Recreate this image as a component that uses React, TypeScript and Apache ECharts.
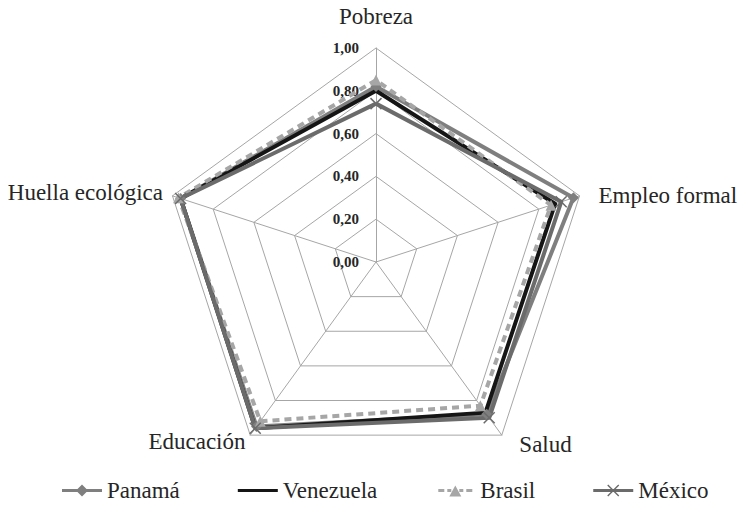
import React, { useEffect, useRef } from "react";
import * as echarts from "echarts";

// Indicators in ECharts radar order (counter-clockwise from top)
const indicatorNames = ["Pobreza", "Huella ecológica", "Educación", "Salud", "Empleo formal"];
const panama = [0.82, 0.96, 0.95, 0.88, 0.97];
const venezuela = [0.8, 0.96, 0.96, 0.87, 0.88];
const brasil = [0.85, 0.97, 0.92, 0.83, 0.86];
const mexico = [0.74, 0.96, 0.96, 0.9, 0.91];
const countries = ["Panamá", "Venezuela", "Brasil", "México"];
const axisMax = 1;

const FONT = "'Liberation Serif', 'Times New Roman', serif";

// legend icons (40 x 12 box, corner specks fix the bounding box)
const corners = "M0,0h0.01v0.01h-0.01Z M40,12h-0.01v-0.01h0.01Z ";
const iconPanama = "path://" + corners + "M0,4.5h40v3h-40Z M20,0L26,6L20,12L14,6Z";
const iconVenezuela = "path://" + corners + "M0,4.5h40v3h-40Z";
const iconBrasil =
  "path://" + corners + "M3,4.5h6v3h-6Z M12,4.5h4v3h-4Z M24,4.5h4v3h-4Z M31,4.5h6v3h-6Z M20,1L26,12L14,12Z";
const iconMexico =
  "path://" + corners + "M0,4.5h40v3h-40Z M14,1L15,0L26,11L25,12Z M25,0L26,1L15,12L14,11Z";

export default function App() {
  const ref = useRef<HTMLDivElement>(null);
  useEffect(() => {
    if (!ref.current) return;
    const chart = echarts.init(ref.current, undefined, { renderer: "svg" });
    const nameGaps = [20, 10, 8, 18, 20];
    // small per-label nudges (left padding / vertical shift in px)
    const namePadLeft = [0, 0, 0, 7, 0];
    const nameShift = [0, 0, 0, -5, 6];
    const colors = ["#7f7f7f", "#151515", "#a6a6a6", "#6b6b6b"];
    const icons = [iconPanama, iconVenezuela, iconBrasil, iconMexico];
    chart.setOption({
      animation: false,
      backgroundColor: "#ffffff",
      legend: {
        bottom: 9,
        left: 57,
        itemWidth: 40,
        itemHeight: 12,
        itemGap: 58,
        textStyle: { fontFamily: FONT, fontSize: 23, color: "#262626" },
        data: countries.map((c, i) => ({
          name: c,
          icon: icons[i],
          itemStyle: { color: colors[i], borderWidth: 0 },
        })),
      },
      radar: {
        center: [376, 262],
        radius: 214,
        startAngle: 90,
        splitNumber: 5,
        shape: "polygon",
        axisName: { fontFamily: FONT, fontSize: 23, color: "#262626" },
        splitLine: { lineStyle: { color: "#a6a6a6", width: 1 } },
        splitArea: { show: false },
        axisLine: { lineStyle: { color: "#a6a6a6", width: 1 } },
        axisTick: { show: false },
        axisLabel: {
          show: false,
          fontFamily: FONT,
          fontSize: 15,
          fontWeight: "bold",
          color: "#262626",
          margin: 17,
          padding: [8, 0, 0, 0],
          formatter: (v: number) => v.toFixed(2).replace(".", ","),
        },
        indicator: indicatorNames.map((n, i) => {
          const s = nameShift[i];
          const name = s > 0 ? "\n" + n : s < 0 ? n + "\n" : n;
          const ts: any = {};
          if (namePadLeft[i]) ts.padding = [0, 0, 0, namePadLeft[i]];
          if (s) ts.lineHeight = Math.abs(s) * 2;
          return {
            name,
            min: 0,
            max: axisMax,
            nameGap: nameGaps[i],
            ...(Object.keys(ts).length ? { nameTextStyle: ts } : {}),
            ...(i === 0 ? { axisLabel: { show: true } } : {}),
          };
        }),
      },
      series: [
        {
          type: "radar",
          silent: true,
          data: [
            {
              name: countries[0],
              value: panama,
              symbol: "diamond",
              symbolSize: 11,
              lineStyle: { color: colors[0], width: 4 },
              itemStyle: { color: colors[0] },
            },
            {
              name: countries[1],
              value: venezuela,
              symbol: "none",
              lineStyle: { color: colors[1], width: 4 },
              itemStyle: { color: colors[1] },
            },
            {
              name: countries[2],
              value: brasil,
              symbol: "triangle",
              symbolSize: 11,
              lineStyle: { color: colors[2], width: 4, type: [7, 5] },
              itemStyle: { color: colors[2] },
            },
            {
              name: countries[3],
              value: mexico,
              symbol: "path://M0,0L10,10M10,0L0,10",
              symbolSize: 11,
              lineStyle: { color: colors[3], width: 4 },
              itemStyle: { color: "none", borderColor: colors[3], borderWidth: 1.5 },
            },
          ],
        },
      ],
    });
    return () => chart.dispose();
  }, []);
  return (
    <div
      ref={ref}
      style={{ position: "fixed", left: 0, top: 0, width: 747, height: 516 }}
    />
  );
}
